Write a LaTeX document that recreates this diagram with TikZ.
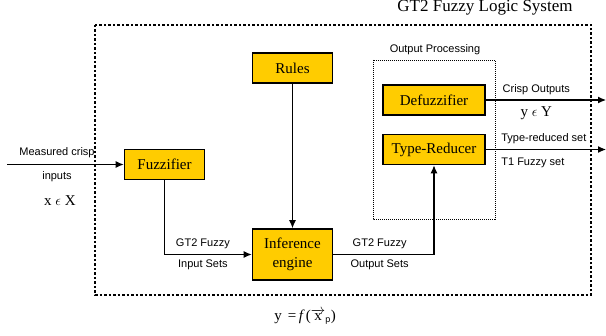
\documentclass[tikz,border=0pt]{standalone}
\usepackage{fontspec}
\setmainfont{Liberation Serif}
\setsansfont{Liberation Sans}
\usepackage{xcolor}
\usepackage{tikz}
\usetikzlibrary{arrows.meta, positioning}

\definecolor{blockfill}{RGB}{255,204,0}

\begin{document}
\begin{tikzpicture}[x=1pt, y=1pt, on grid, >={Latex[length=8pt,width=7pt]},
        block/.style={draw, line width=1.6pt, fill=blockfill, minimum width=80pt, minimum height=30pt,
                      align=center, font=\fontsize{15}{19}\selectfont},
        lbl/.style={font=\sffamily\fontsize{11}{13}\selectfont, inner xsep=3pt, inner ysep=5pt},
        sym/.style={font=\fontsize{15}{18}\selectfont},
        flow/.style={->, line width=1.1pt}]
        \useasboundingbox (0,0) rectangle (606,-336);

        \node[block] (fuzz) at (164.5,-164.5) {Fuzzifier};
        \node[block, minimum height=51pt] (infer) [below right=90pt and 128pt of fuzz] {Inference\\engine};
        \node[block] (rules) [above=186.5pt of infer] {Rules};
        \node[block, minimum width=102pt] (typered) [above right=105pt and 141.5pt of infer] {Type-Reducer};
        \node[block, minimum width=102pt] (defuzz) [above=49.5pt of typered] {Defuzzifier};

        % system border and output processing group
        \draw[line width=1.2pt, dash pattern=on 2.5pt off 2pt] (95,-25) rectangle (591,-295);
        \draw[line width=0.7pt, dash pattern=on 1pt off 1pt] (373,-60) rectangle (495,-219);
        \node[font=\fontsize{17}{20}\selectfont] (title) at (485,-8) {GT2 Fuzzy Logic System};
        \node[lbl] (outproc) at (435,-50) {Output Processing};

        \coordinate (meas) at (7,-164.5);
        \coordinate (crisp) at (606,-100);
        \coordinate (reduced) at (606,-149.5);

        \node[lbl] (measlbl) at (57,-153) {Measured crisp};
        \node[lbl] (inlbl) at (57,-177) {inputs};
        \node[sym] (xset) at (60,-201) {x $\epsilon$ X};
        \node[sym] (fx) at (305,-317)
            {y \,=\,\textit{f}\kern1pt($\overrightarrow{\mbox{x}}_{\mbox{\sffamily\fontsize{9}{9}\selectfont p}}$)};

        \path[flow]
        (meas) edge (fuzz)
        (rules) edge (infer)
        (defuzz) edge node[lbl, above, pos=0.42] (crisplbl) {Crisp Outputs}
                      node[sym, below, pos=0.42, yshift=-3pt] (yset) {y $\epsilon$ Y} (crisp)
        (typered) edge node[lbl, above right, pos=0.1] (redlbl) {Type-reduced set}
                       node[lbl, below right, pos=0.1, yshift=-3pt] (t1lbl) {T1 Fuzzy set} (reduced);

        \draw[flow] (fuzz) |- node[lbl, above, pos=0.72] (gtin) {GT2 Fuzzy}
                               node[lbl, below, pos=0.72] (insets) {Input Sets} (infer);
        \draw[flow] (infer) -| node[lbl, above, pos=0.23] (gtout) {GT2 Fuzzy}
                               node[lbl, below, pos=0.23] (outsets) {Output Sets} (typered);
    \end{tikzpicture}
\end{document}
